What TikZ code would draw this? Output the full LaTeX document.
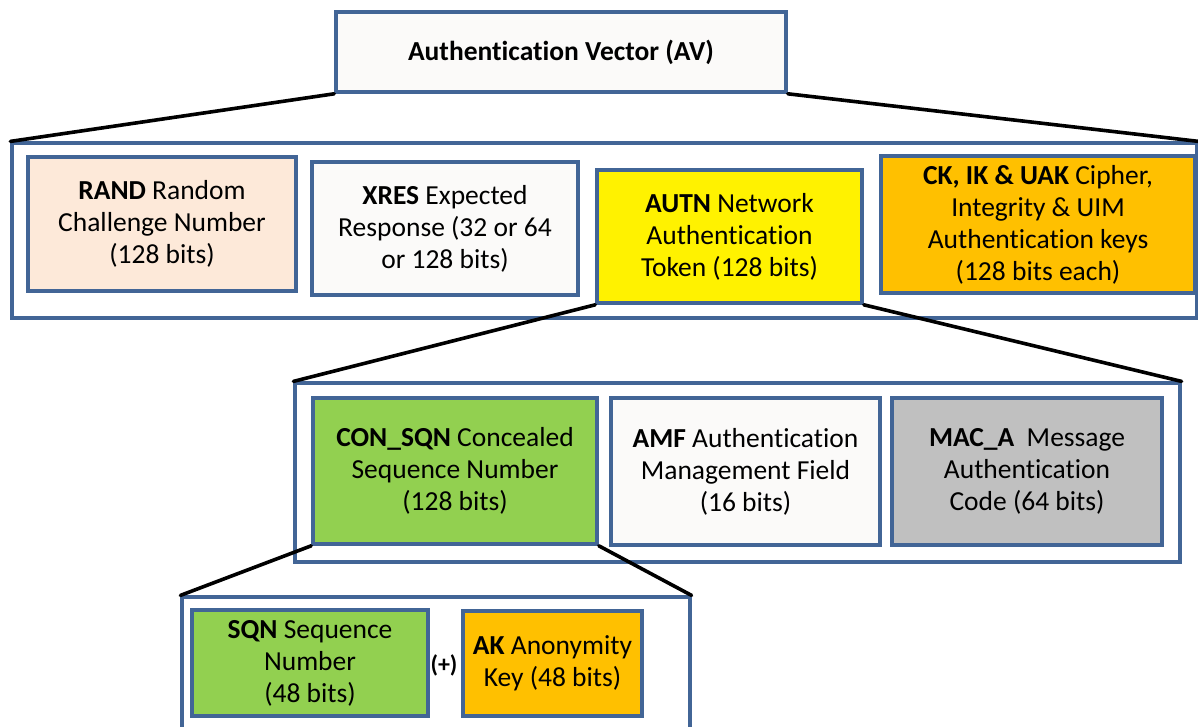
\documentclass[tikz,border=0pt]{standalone}
\usepackage{fontspec}
\setmainfont[RawFeature={-liga;-clig;-calt;-dlig}]{Carlito}
\definecolor{frame}{RGB}{66,101,150}
\definecolor{paper}{RGB}{251,250,249}
\definecolor{peach}{RGB}{253,233,217}
\definecolor{gold}{RGB}{255,192,0}
\definecolor{lime}{RGB}{146,208,80}
\definecolor{silver}{RGB}{192,192,192}
\tikzset{
  panel/.style={draw=frame, line width=3.2pt, fill=white, inner sep=0pt},
  field/.style={draw=frame, line width=3.6pt, inner sep=0pt, align=center,
    font=\fontsize{27.5}{32}\selectfont},
  link/.style={black, line width=3.6pt, line cap=round}
}
\begin{document}
\begin{tikzpicture}[x=1pt, y=-1pt]
\clip (0,0) rectangle (1198,726);
\fill[white] (0,0) rectangle (1198,726);

% level 0: the vector itself
\node[field, fill=paper, minimum width=450pt, minimum height=80pt,
      font=\bfseries\fontsize{27.5}{32}\selectfont] (av) at (561,52) {Authentication Vector (AV)};

% level 1: components of the vector
\node[panel, minimum width=1185pt, minimum height=175pt] (row1) at (604.5,230.5) {};
\node[field, fill=peach, minimum width=268pt, minimum height=134pt] (rand) at (162,224)
  {\textbf{RAND} Random\\Challenge Number\\(128 bits)};
\node[field, fill=paper, minimum width=266pt, minimum height=133pt] (xres) at (445,228.5)
  {\textbf{XRES} Expected\\Response (32 or 64\\or 128 bits)};
\node[field, fill=yellow, minimum width=265pt, minimum height=133pt] (autn) at (729.5,236.5)
  {\textbf{AUTN} Network\\Authentication\\Token (128 bits)};
\node[field, fill=gold, minimum width=314pt, minimum height=137pt] (keys) at (1038,224.5)
  {\textbf{CK, IK \& UAK} Cipher,\\Integrity \& UIM\\Authentication keys\\(128 bits each)};

% level 2: components of AUTN
\node[panel, minimum width=885pt, minimum height=179pt] (row2) at (737.5,472.5) {};
\node[field, fill=lime, minimum width=284pt, minimum height=146pt] (consqn) at (455,471)
  {\textbf{CON\_SQN} Concealed\\Sequence Number\\(128 bits)};
\node[field, fill=paper, minimum width=269pt, minimum height=147pt] (amf) at (745.5,471.5)
  {\textbf{AMF} Authentication\\Management Field\\(16 bits)};
\node[field, fill=silver, minimum width=270pt, minimum height=147pt] (mac) at (1027,471.5)
  {\textbf{MAC\_A}\ \ Message\\Authentication\\Code (64 bits)};

% level 3: components of CON_SQN
\node[panel, minimum width=508pt, minimum height=150pt] (row3) at (436,672) {};
\node[field, fill=lime, minimum width=236pt, minimum height=106pt] (sqn) at (310,663)
  {\textbf{SQN} Sequence\\Number\\(48 bits)};
\node[field, fill=gold, minimum width=179pt, minimum height=105pt] (ak) at (552.5,663.5)
  {\textbf{AK} Anonymity\\Key (48 bits)};
\node[font=\bfseries\fontsize{24}{28}\selectfont, inner sep=0pt] (xor) at (444,665) {(+)};

% expansion lines
\draw[link] (av.south west) -- (row1.north west);
\draw[link] (av.south east) -- (row1.north east);
\draw[link] (autn.south west) -- (row2.north west);
\draw[link] (autn.south east) -- (row2.north east);
\draw[link] (consqn.south west) -- (row3.north west);
\draw[link] (consqn.south east) -- (row3.north east);
\end{tikzpicture}
\end{document}
